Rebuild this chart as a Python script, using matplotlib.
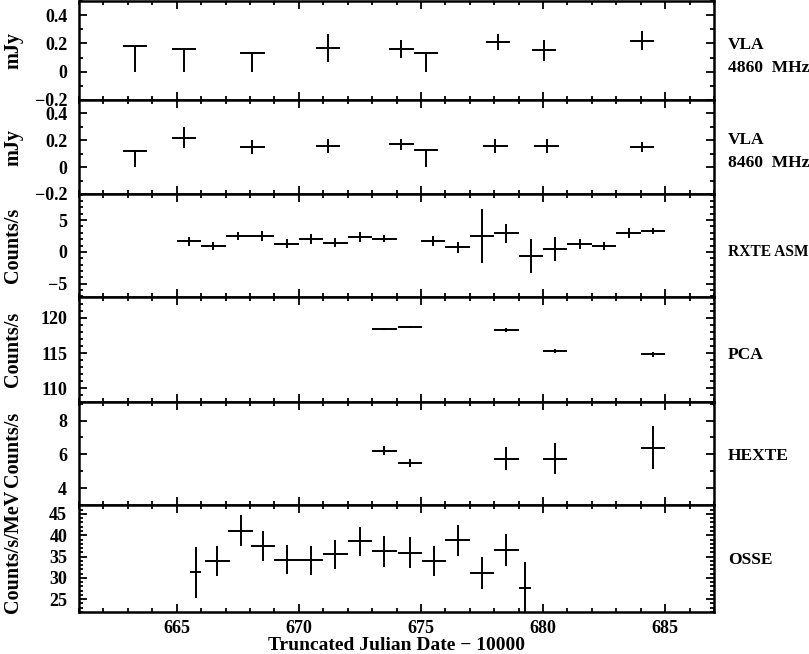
"""
Multi-band light curves: VLA radio, RXTE ASM/PCA/HEXTE and OSSE.
"""

import matplotlib
matplotlib.use("Agg")
import matplotlib.pyplot as plt
from matplotlib.ticker import MultipleLocator, FuncFormatter

plt.rcParams["font.family"] = ["Liberation Serif", "DejaVu Serif"]
plt.rcParams["font.weight"] = "bold"
plt.rcParams["axes.unicode_minus"] = True

# ---- VLA 4860 MHz (detections + upper limits) ----
vla6_x = [671.2, 674.2, 678.15, 680.05, 684.05]
vla6_y = [0.17, 0.16, 0.21, 0.15, 0.22]
vla6_err = [0.10, 0.065, 0.055, 0.073, 0.065]
vla6_lim_x = [663.3, 665.3, 668.1, 675.2]
vla6_lim_y = [0.18, 0.16, 0.13, 0.13]

# ---- VLA 8460 MHz ----
vla3_x = [665.3, 668.1, 671.2, 674.2, 678.05, 680.15, 684.05]
vla3_y = [0.22, 0.15, 0.16, 0.17, 0.16, 0.16, 0.15]
vla3_err = [0.08, 0.05, 0.053, 0.04, 0.053, 0.053, 0.038]
vla3_lim_x = [663.3, 675.2]
vla3_lim_y = [0.12, 0.13]

# ---- RXTE ASM ----
asm_x = [665.5, 666.5, 667.5, 668.5, 669.5, 670.5, 671.5, 672.5, 673.5,
         675.5, 676.5, 677.5, 678.5, 679.5, 680.5, 681.5, 682.5, 683.5, 684.5]
asm_y = [1.65, 0.9, 2.5, 2.5, 1.3, 2.05, 1.45, 2.35, 2.05,
         1.75, 0.7, 2.5, 2.9, -0.65, 0.45, 1.25, 0.95, 3.0, 3.25]
asm_err = [0.65, 0.6, 0.6, 0.8, 0.65, 0.8, 0.7, 0.75, 0.55,
           0.8, 0.85, 4.2, 1.45, 2.7, 1.9, 0.85, 0.65, 0.75, 0.5]

# ---- PCA ----
pca_x = [673.5, 674.55, 678.5, 680.5, 684.5]
pca_y = [118.45, 118.7, 118.3, 115.3, 114.8]
pca_err = [0.15, 0.1, 0.3, 0.3, 0.3]

# ---- HEXTE ----
hexte_x = [673.5, 674.55, 678.5, 680.5, 684.5]
hexte_y = [6.22, 5.5, 5.75, 5.75, 6.4]
hexte_err = [0.26, 0.22, 0.68, 0.9, 1.28]

# ---- OSSE ----
osse_x = [665.78, 666.67, 667.62, 668.53, 669.5, 670.5, 671.5, 672.5, 673.5,
          674.55, 675.54, 676.5, 677.5, 678.5, 679.25]
osse_y = [31.3, 33.9, 41.1, 37.4, 34.3, 34.1, 35.6, 38.6, 36.2,
          35.9, 33.9, 38.8, 31.2, 36.5, 27.7]
osse_err = [6.0, 3.5, 3.6, 3.5, 3.4, 3.4, 3.4, 3.4, 3.6,
            3.6, 3.5, 3.6, 3.7, 3.7, 6.0]
osse_xerr = [0.23, 0.5, 0.5, 0.5, 0.5, 0.5, 0.5, 0.5, 0.5,
             0.5, 0.5, 0.5, 0.5, 0.5, 0.25]

# 面板边界（像素，从上往下）
W, H = 809, 654
edges = [1, 100, 194, 297, 402, 505, 612]
x0, x1 = 79, 714

fig = plt.figure(figsize=(W / 100, H / 100), dpi=100)
axes = []
for i in range(6):
    top, bot = edges[i], edges[i + 1]
    ax = fig.add_axes([x0 / W, 1 - bot / H, (x1 - x0) / W, (bot - top) / H])
    axes.append(ax)

eb = dict(fmt="none", ecolor="black", elinewidth=1.4, capsize=0)
fmt = FuncFormatter(lambda v, p: f"{v:g}".replace("-", "\u2212"))


def style(ax, ylim, major, minor, ylabel, label, ly, lsize=12.5, yl_pos=0.5):
    ax.set_xlim(661, 687)
    ax.set_ylim(*ylim)
    ax.xaxis.set_major_locator(MultipleLocator(5))
    ax.xaxis.set_minor_locator(MultipleLocator(1))
    ax.yaxis.set_major_locator(MultipleLocator(major))
    ax.yaxis.set_minor_locator(MultipleLocator(minor))
    ax.yaxis.set_major_formatter(fmt)
    ax.tick_params(which="both", direction="in", top=True, right=True,
                   width=1.3, labelsize=13)
    ax.tick_params(which="major", length=6)
    ax.tick_params(which="minor", length=3)
    ax.tick_params(axis="x", pad=6)
    ax.tick_params(axis="y", pad=8.5)
    for s in ax.spines.values():
        s.set_linewidth(1.8)
    ax.set_ylabel(ylabel, fontsize=14.5, fontweight="bold")
    ax.yaxis.set_label_coords(-0.088, yl_pos)
    ax.text(1.022, ly, label, transform=ax.transAxes, va="center", ha="left",
            fontsize=lsize, linespacing=1.55)


# VLA 4860
ax = axes[0]
ax.errorbar(vla6_x, vla6_y, xerr=0.5, yerr=vla6_err, **eb)
ax.errorbar(vla6_lim_x, vla6_lim_y, xerr=0.5,
            yerr=[vla6_lim_y, [0] * len(vla6_lim_y)], **eb)
style(ax, (-0.2, 0.5), 0.2, 0.1, "mJy", "VLA\n4860  MHz", 0.44)

# VLA 8460
ax = axes[1]
ax.errorbar(vla3_x, vla3_y, xerr=0.5, yerr=vla3_err, **eb)
ax.errorbar(vla3_lim_x, vla3_lim_y, xerr=0.5,
            yerr=[vla3_lim_y, [0] * len(vla3_lim_y)], **eb)
style(ax, (-0.2, 0.5), 0.2, 0.1, "mJy", "VLA\n8460  MHz", 0.45)

# RXTE ASM
ax = axes[2]
ax.errorbar(asm_x, asm_y, xerr=0.5, yerr=asm_err, **eb)
style(ax, (-7.1, 9.1), 5, 1, "Counts/s", "RXTE ASM", 0.44, lsize=11.2)

# PCA
ax = axes[3]
ax.errorbar(pca_x, pca_y, xerr=0.5, yerr=pca_err, **eb)
style(ax, (108, 123), 5, 1, "Counts/s", "PCA", 0.45)

# HEXTE
ax = axes[4]
ax.errorbar(hexte_x, hexte_y, xerr=0.5, yerr=hexte_err, **eb)
style(ax, (3, 9.1), 2, 1, "Counts/s", "HEXTE", 0.48, yl_pos=0.54)

# OSSE
ax = axes[5]
ax.errorbar(osse_x, osse_y, xerr=osse_xerr, yerr=osse_err, **eb)
style(ax, (22, 47.1), 5, 1, "Counts/s/MeV", "OSSE", 0.49, yl_pos=0.565)

for ax in axes[:-1]:
    ax.tick_params(labelbottom=False)
fig.text((x0 + x1) / 2 / W, 0, "Truncated Julian Date \u2212 10000",
         ha="center", va="bottom", fontsize=14, fontweight="bold")

fig.savefig("out.png", dpi=100)
plt.close(fig)
